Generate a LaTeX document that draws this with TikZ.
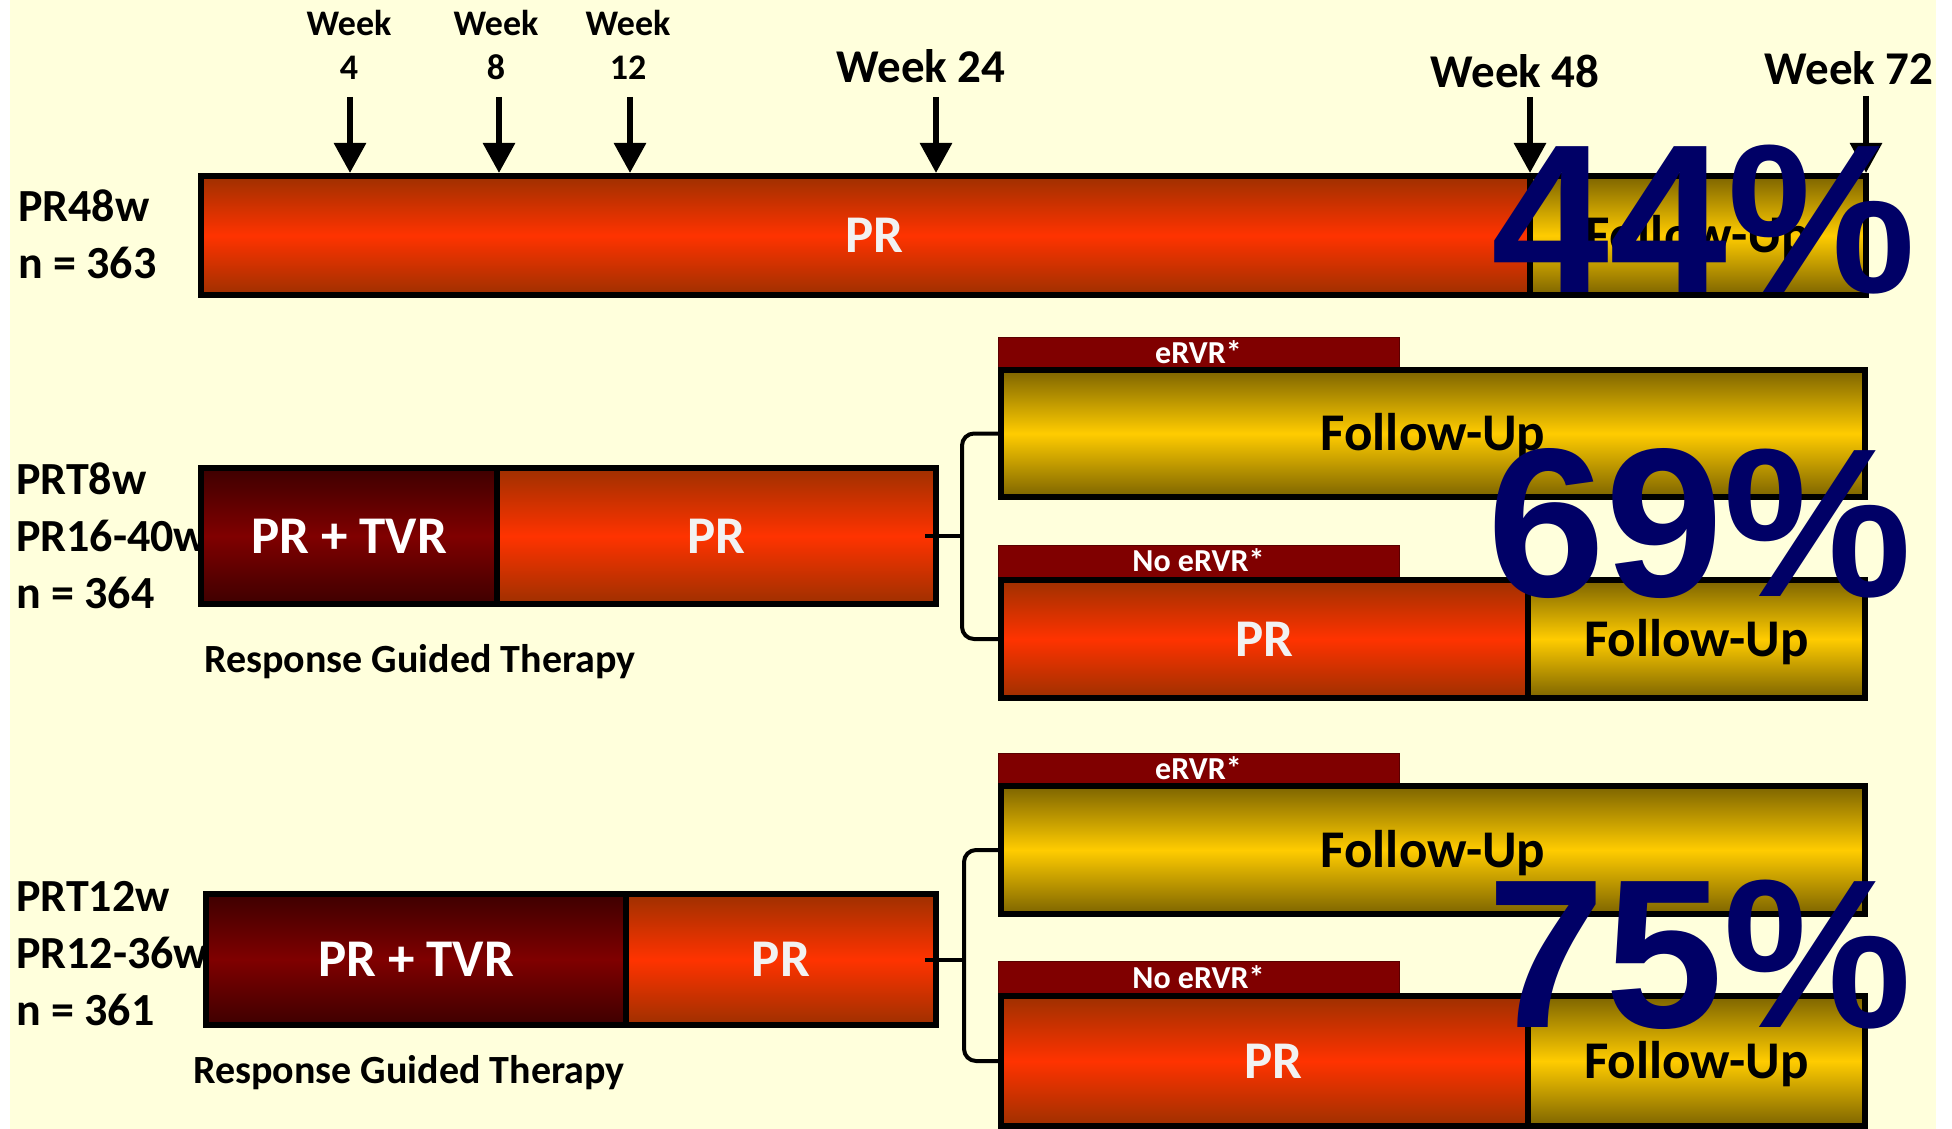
\documentclass[tikz,border=0pt]{standalone}
\usepackage{fontspec}
\setmainfont{Carlito}
\newfontfamily\pctfont{Liberation Sans}
\usetikzlibrary{arrows.meta}
\definecolor{bgcream}{RGB}{255,255,220}
\definecolor{prdark}{RGB}{158,48,0}
\definecolor{prlight}{RGB}{255,51,0}
\definecolor{tvrdark}{RGB}{62,0,0}
\definecolor{tvrlight}{RGB}{128,0,0}
\definecolor{fudark}{RGB}{125,100,0}
\definecolor{fulight}{RGB}{255,204,0}
\definecolor{tabred}{RGB}{128,0,0}
\definecolor{pctblue}{RGB}{0,0,102}
\newcommand{\barfont}{\fontsize{53}{62}\selectfont\bfseries}

\begin{document}
\begin{tikzpicture}[x=1pt, y=-1pt,
    bar/.style={draw, line width=6pt, inner sep=0pt, text height=34pt, text depth=0pt, font=\barfont},
    prbar/.style={bar, top color=prdark, bottom color=prdark, middle color=prlight, text=white!95!black},
    tvrbar/.style={bar, top color=tvrdark, bottom color=tvrdark, middle color=tvrlight, text=white},
    fubar/.style={bar, top color=fudark, bottom color=fudark, middle color=fulight, text=black},
    tab/.style={fill=tabred, draw=tabred!70!black, line width=1pt, minimum width=401pt, minimum height=32pt,
        inner sep=0pt, text=white, text height=21pt, text depth=0pt, font=\fontsize{32}{36}\selectfont\bfseries},
    grplab/.style={anchor=south west, align=left, inner sep=0pt, font=\fontsize{46}{57}\selectfont\bfseries},
    rgt/.style={anchor=base west, inner sep=0pt, font=\fontsize{40}{46}\selectfont\bfseries},
    wksmall/.style={anchor=south, align=center, inner sep=0pt, font=\fontsize{36}{44}\selectfont\bfseries},
    wkbig/.style={anchor=base, inner sep=0pt, font=\fontsize{47}{52}\selectfont\bfseries},
    wk/.style={line width=6pt, -{Triangle[width=31pt,length=30pt]}},
    brk/.style={line width=4pt},
    pct/.style={anchor=base, inner sep=0pt, text=pctblue, font=\pctfont\bfseries\fontsize{212}{220}\selectfont}]

    \useasboundingbox (0,0) rectangle (1952,1129);
    \fill[bgcream] (10,0) rectangle (1936,1129); % background

    % group labels
    \node[grplab] (G48) at (18,279) {PR48w\\n = 363};
    \node[grplab] (G8) at (16,609) {PRT8w\\PR16-40w\\n = 364};
    \node[grplab] (G12) at (16,1026) {PRT12w\\PR12-36w\\n = 361};

    % timeline
    \node[wksmall] (L4) at (349,80) {Week\\4};
    \node[wksmall] (L8) at (496,80) {Week\\8};
    \node[wksmall] (L12) at (628,80) {Week\\12};
    \node[wkbig] (L24) at (921,83) {Week 24};
    \node[wkbig] (L48) at (1515,88) {Week 48};
    \node[wkbig] (L72) at (1849,85) {Week 72};

    % PR48w
    \node[prbar, minimum width=1329pt, minimum height=119pt] (P48) at (865.5,235.5) {\hspace*{18pt}PR};
    \node[fubar, minimum width=336pt, minimum height=119pt] (F48) at (1698,235.5) {Follow-Up};

    \coordinate (a4) at (350,97);
    \coordinate (a8) at (499,97);
    \coordinate (a12) at (630,97);
    \coordinate (a24) at (936,97);
    \coordinate (a48) at (1530,97);
    \coordinate (a72) at (1866,96);
    \draw[wk] (a4) -- (a4 |- P48.north);
    \draw[wk] (a8) -- (a8 |- P48.north);
    \draw[wk] (a12) -- (a12 |- P48.north);
    \draw[wk] (a24) -- (a24 |- P48.north);
    \draw[wk] (a48) -- (a48 |- P48.north);
    \draw[wk] (a72) -- (a72 |- F48.north);

    % PRT8w
    \node[tvrbar, minimum width=296pt, minimum height=136pt] (T8) at (349,536) {PR + TVR};
    \node[prbar, minimum width=439pt, minimum height=136pt] (P8) at (716.5,536) {PR};
    \node[rgt] (RG8) at (204,672) {Response Guided Therapy};

    \node[tab] (E8) at (1198.5,353) {eRVR*};
    \node[fubar, minimum width=864pt, minimum height=127pt] (F8e) at (1433,433.5) {Follow-Up};
    \node[tab] (N8) at (1198.5,561) {No eRVR*};
    \node[prbar, minimum width=527pt, minimum height=118pt] (P8n) at (1264.5,639) {PR};
    \node[fubar, minimum width=337pt, minimum height=118pt] (F8n) at (1696.5,639) {Follow-Up};

    \coordinate (k8) at (962,536);
    \draw[brk] ([xshift=-14pt]P8.east) -- (k8);
    \draw[brk, rounded corners=12pt] (F8e.west) -| (k8) |- (P8n.west);

    % PRT12w
    \node[tvrbar, minimum width=420pt, minimum height=131pt] (T12) at (416,959.5) {PR + TVR};
    \node[prbar, minimum width=310pt, minimum height=131pt] (P12) at (781,959.5) {PR};
    \node[rgt] (RG12) at (193,1083) {Response Guided Therapy};

    \node[tab] (E12) at (1198.5,769) {eRVR*};
    \node[fubar, minimum width=864pt, minimum height=128pt] (F12e) at (1433,850) {Follow-Up};
    \node[tab] (N12) at (1198.5,977.5) {No eRVR*};
    \node[prbar, minimum width=527pt, minimum height=130pt] (P12n) at (1264.5,1061) {\hspace*{18pt}PR};
    \node[fubar, minimum width=337pt, minimum height=130pt] (F12n) at (1696.5,1061) {Follow-Up};

    \coordinate (k12) at (964,959.5);
    \draw[brk] ([xshift=-14pt]P12.east) -- (k12);
    \draw[brk, rounded corners=12pt] (F12e.west) -| (k12) |- (P12n.west);

    % results
    \node[pct] (R1) at (1704,292) {44\%};
    \node[pct] (R2) at (1700,596) {69\%};
    \node[pct] (R3) at (1700,1027) {75\%};
\end{tikzpicture}
\end{document}
